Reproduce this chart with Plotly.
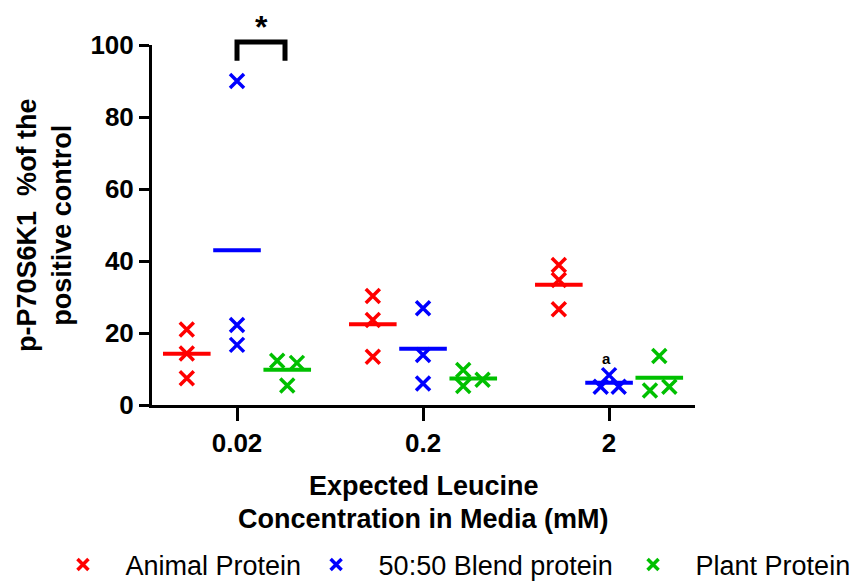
import plotly.graph_objects as go

# ---- data ----
categories = ["0.02", "0.2", "2"]
series_names = ["Animal Protein", "50:50 Blend protein", "Plant Protein"]
animal = [[21.0, 14.3, 7.4], [30.3, 23.6, 13.4], [38.9, 34.7, 26.6]]
blend = [[90.0, 22.2, 16.7], [26.9, 13.9, 6.0], [8.3, 5.1, 5.1]]
plant = [[12.3, 11.7, 5.4], [9.7, 5.3, 7.0], [13.6, 4.0, 5.1]]
ytick_vals = [0, 20, 40, 60, 80, 100]
y_range = [0, 100]
x_title_lines = ["Expected Leucine", "Concentration in Media (mM)"]
y_title = "p-P70S6K1  %of the<br>positive control"

# ---- style / positions ----
colors = ["#ff0000", "#0000ff", "#00c000"]
series_offset = [-0.27, 0.0, 0.27]
jitter = [
    [[0, 0, 0], [0, 0, 0], [0, 0, 0]],
    [[0, 0, 0], [0, 0, 0], [0, -0.045, 0.052]],
    [[-0.054, 0.052, 0], [-0.054, -0.054, 0.05], [0, -0.05, 0.054]],
]
legend_x = [0.0727, 0.365, 0.731]   # container fractions of each legend's left edge
# significance bracket (in data units of the y axis), drawn above the axis
bracket_x = [0.0, 0.258]
bracket_y = [95.6, 100.8]
star_y = 110.5

FONT = "Liberation Sans, Arial, Helvetica, sans-serif"
NB = "\u00a0\u00a0\u00a0"
all_series = [animal, blend, plant]


def yfrac(v):
    return (v - y_range[0]) / (y_range[1] - y_range[0])


fig = go.Figure()
legend_ids = ["legend", "legend2", "legend3"]
for s, (vals, name, col) in enumerate(zip(all_series, series_names, colors)):
    xs, ys, mx, my = [], [], [], []
    for g, grp in enumerate(vals):
        for k, v in enumerate(grp):
            xs.append(g + series_offset[s] + jitter[s][g][k])
            ys.append(v)
        mx.append(g + series_offset[s])
        my.append(sum(grp) / len(grp))
    fig.add_trace(go.Scatter(
        x=xs, y=ys, mode="markers", showlegend=False, cliponaxis=False,
        marker=dict(symbol="x-thin", size=14, line=dict(color=col, width=3.5)),
        hoverinfo="y"))
    fig.add_trace(go.Scatter(
        x=mx, y=my, mode="markers", showlegend=False, cliponaxis=False,
        marker=dict(symbol="line-ew", size=34, line=dict(color=col, width=4)),
        hoverinfo="y"))
    # legend entry (one legend per series so they lie on one row)
    fig.add_trace(go.Scatter(
        x=[None], y=[None], mode="markers", name=NB + name, legend=legend_ids[s],
        marker=dict(symbol="x-thin", size=11, line=dict(color=col, width=3.5))))

# significance bracket and star
x0, x1 = bracket_x
yb, yt = yfrac(bracket_y[0]), yfrac(bracket_y[1])
fig.add_shape(type="path", xref="x", yref="paper",
              path=f"M {x0},{yb} L {x0},{yt} L {x1},{yt} L {x1},{yb}",
              line=dict(color="black", width=5))
fig.add_annotation(x=(x0 + x1) / 2, y=yfrac(star_y), xref="x", yref="paper",
                   text="<b>*</b>", showarrow=False,
                   font=dict(family=FONT, size=32, color="black"))
fig.add_annotation(x=2.0 - 0.015, y=12.8, xref="x", yref="y", text="<b>a</b>",
                   showarrow=False, font=dict(family=FONT, size=15, color="black"))

# axis titles
for line, yy in zip(x_title_lines, [-0.225, -0.3167]):
    fig.add_annotation(x=0.5, y=yy, xref="paper", yref="paper", text=line,
                       showarrow=False, xanchor="center", yanchor="middle",
                       font=dict(family=FONT, size=27, weight="bold", color="black"))
fig.add_annotation(x=-0.199, y=0.5, xref="paper", yref="paper", text=y_title,
                   textangle=-90, showarrow=False, xanchor="center", yanchor="middle",
                   font=dict(family=FONT, size=27, weight="bold", color="black"))

leg_common = dict(orientation="h", xref="container", yref="paper",
                  xanchor="left", y=-0.444, yanchor="middle",
                  font=dict(family=FONT, size=27, color="black"),
                  bgcolor="rgba(0,0,0,0)")

fig.update_layout(
    width=866, height=582,
    margin=dict(l=152, r=171, t=45, b=177, autoexpand=False),
    plot_bgcolor="white", paper_bgcolor="white",
    font=dict(family=FONT, color="black"),
    legend=dict(x=legend_x[0], **leg_common),
    legend2=dict(x=legend_x[1], **leg_common),
    legend3=dict(x=legend_x[2], **leg_common),
    xaxis=dict(range=[-0.457, 2.462], tickvals=[0, 1, 2], ticktext=categories,
               showline=True, linewidth=3, linecolor="black", ticks="outside",
               ticklen=13, tickwidth=3, tickcolor="black", showgrid=False,
               zeroline=False,
               tickfont=dict(family=FONT, size=26, weight="bold", color="black")),
    yaxis=dict(range=y_range, tickvals=ytick_vals,
               showline=True, linewidth=3, linecolor="black", ticks="outside",
               ticklen=10, tickwidth=3, tickcolor="black", showgrid=False,
               zeroline=False,
               tickfont=dict(family=FONT, size=26, weight="bold", color="black")),
)

fig.write_html(
    "out.html",
    config={"displayModeBar": False},
    post_script="document.body.style.margin='0';document.body.style.overflow='hidden';",
)
